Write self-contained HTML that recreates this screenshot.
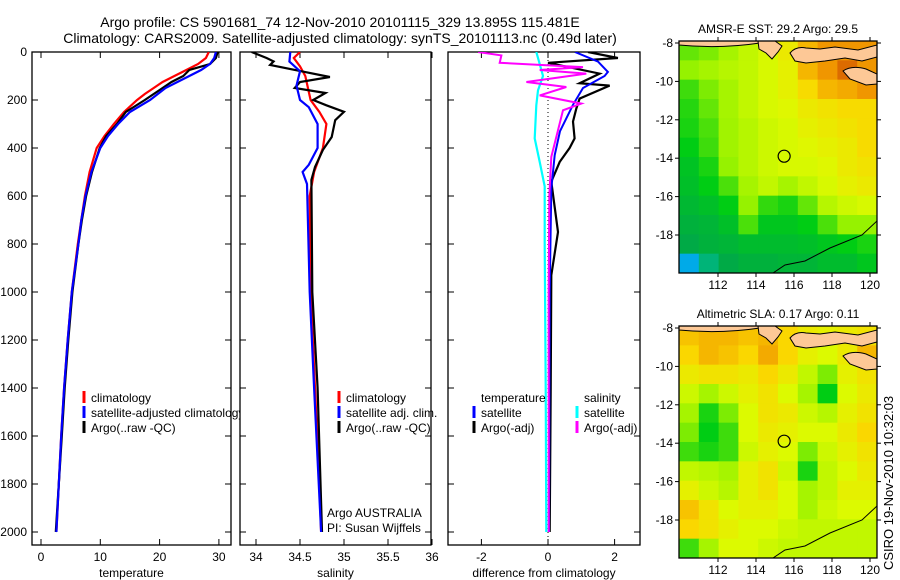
<!DOCTYPE html>
<html><head><meta charset="utf-8"><style>
html,body{margin:0;padding:0;background:#fff;}
svg{display:block;font-family:"Liberation Sans",sans-serif;}
</style></head><body>
<svg id="fig" width="900" height="580" viewBox="0 0 900 580">
<text x="340" y="27" font-size="14" text-anchor="middle">Argo profile: CS 5901681_74 12-Nov-2010 20101115_329 13.895S 115.481E</text>
<text x="340" y="43" font-size="14" text-anchor="middle">Climatology: CARS2009. Satellite-adjusted climatology: synTS_20101113.nc (0.49d later)</text>
<text x="0" y="0" font-size="13" transform="translate(893,570) rotate(-90)">CSIRO 19-Nov-2010 10:32:03</text>
<g id="g"></g>
</svg>
<script>
// ---------- data ----------
const depthT=[0,25,50,75,100,125,150,175,200,250,300,350,400,500,600,700,800,1000,1200,1400,1600,1800,2000];
const tempClim=[28.3,27.8,26.5,24.5,22.5,20.5,19,17.5,16.2,14,12.3,10.7,9.4,8.2,7.4,6.8,6.2,5.2,4.5,3.9,3.4,3.0,2.6];
const tempSat=[29.5,29.2,28.5,27,25,23,21,19.7,18.4,15,13,11.3,10,8.5,7.5,6.8,6.3,5.2,4.5,3.9,3.4,3.0,2.6];
const tempArgo=[29.8,29.5,28.5,25,24,22,20.5,19,17.5,14.3,12.8,11,9.9,8.6,7.6,6.9,6.3,5.3,4.6,4.0,3.5,3.0,2.5];
const depthSA=[0,25,39,54,82,104,125,150,171,200,222,249,284,354,408,479,533,1000,1400,2000];
const salArgo=[33.95,34.12,34.2,34.16,34.54,34.84,34.5,34.44,34.79,34.65,34.8,35.0,34.9,34.86,34.76,34.67,34.63,34.64,34.7,34.75];
const depthSC=[0,25,60,100,200,250,300,400,500,600,1000,1400,1800,2000];
const salClim=[34.5,34.43,34.5,34.56,34.62,34.72,34.8,34.76,34.66,34.61,34.62,34.67,34.72,34.74];
const depthSS=[0,40,80,140,200,230,300,400,470,500,550,1000,1400,2000];
const salSat=[34.39,34.38,34.5,34.46,34.5,34.6,34.7,34.7,34.6,34.53,34.58,34.61,34.66,34.74];
const depthDB=[0,40,83,100,150,220,330,430,570,1000,2000];
const diffTSat=[0.81,1.5,1.8,1.7,1.05,0.75,0.36,0.2,0.1,0.05,0.03];
const depthDK=[0,25,45,90,130,140,194,236,290,360,400,458,540,750,930,1400,2000];
const diffTArgo=[1.2,2.1,0.0,1.55,0.95,1.85,0.95,0.85,0.75,0.8,0.65,0.35,0.1,0.3,0.1,0.08,0.05];
const depthDM=[0,14,45,63,75,90,125,146,181,215,243,326,437,600,1000,2000];
const diffSArgo=[-2.1,-1.4,-1.45,1.05,-0.25,1.15,-0.65,0.55,-0.25,1.0,0.45,0.3,0.1,0.04,0.02,0.02];
const depthDC=[0,50,100,160,222,360,458,560,800,1400,2000];
const diffSSat=[-0.35,-0.25,-0.15,-0.3,-0.35,-0.4,-0.25,-0.1,-0.1,-0.07,-0.05];
const depthTicks=[0,200,400,600,800,1000,1200,1400,1600,1800,2000];
const tempTicks=[0,10,20,30];
const salTicks=[34,34.5,35,35.5,36];
const diffTicks=[-2,0,2];
const latTicks=[-8,-10,-12,-14,-16,-18];
const lonTicks=[112,114,116,118,120];
const sstGrid=[
[0.48,0.5,0.55,0.6,0.64,0.7,0.8,0.85,0.85,0.85],
[0.52,0.55,0.58,0.6,0.64,0.68,0.8,0.85,0.9,0.85],
[0.45,0.5,0.55,0.6,0.64,0.68,0.74,0.8,0.82,0.85],
[0.43,0.48,0.55,0.6,0.64,0.66,0.7,0.72,0.74,0.74],
[0.42,0.46,0.54,0.58,0.62,0.64,0.68,0.7,0.72,0.74],
[0.4,0.45,0.54,0.58,0.62,0.64,0.66,0.68,0.7,0.74],
[0.37,0.42,0.52,0.58,0.62,0.64,0.64,0.66,0.7,0.72],
[0.36,0.4,0.46,0.55,0.6,0.55,0.6,0.64,0.68,0.7],
[0.34,0.36,0.4,0.52,0.44,0.42,0.48,0.58,0.62,0.64],
[0.32,0.33,0.36,0.46,0.38,0.38,0.4,0.46,0.52,0.52],
[0.3,0.32,0.33,0.35,0.35,0.35,0.36,0.38,0.4,0.42],
[0.1,0.25,0.3,0.32,0.32,0.33,0.33,0.35,0.35,0.38]];
const slaGrid=[
[0.78,0.8,0.8,0.78,0.8,0.75,0.7,0.68,0.7,0.72],
[0.75,0.8,0.78,0.75,0.82,0.75,0.68,0.65,0.7,0.8],
[0.7,0.72,0.72,0.7,0.75,0.7,0.6,0.5,0.68,0.72],
[0.62,0.55,0.62,0.68,0.72,0.65,0.55,0.4,0.65,0.7],
[0.55,0.42,0.5,0.65,0.72,0.7,0.62,0.58,0.68,0.72],
[0.5,0.4,0.45,0.65,0.7,0.68,0.65,0.65,0.7,0.75],
[0.45,0.42,0.45,0.62,0.68,0.65,0.5,0.62,0.68,0.72],
[0.6,0.58,0.55,0.68,0.72,0.62,0.42,0.6,0.65,0.7],
[0.68,0.62,0.58,0.68,0.72,0.65,0.55,0.6,0.68,0.68],
[0.78,0.72,0.65,0.68,0.68,0.65,0.55,0.62,0.65,0.65],
[0.75,0.72,0.68,0.65,0.65,0.62,0.6,0.6,0.6,0.6],
[0.45,0.55,0.65,0.65,0.62,0.6,0.6,0.6,0.6,0.6]];
const argoLon=115.481, argoLat=-13.895;

// ---------- helpers ----------
const NS="http://www.w3.org/2000/svg";
const G=document.getElementById('g');
function el(tag,attrs,parent){const e=document.createElementNS(NS,tag);for(const k in attrs)e.setAttribute(k,attrs[k]);(parent||G).appendChild(e);return e;}
const yD=d=>52+0.24*d;
const xT=t=>41+5.93*t;
const xS=s=>256+88*(s-34);
const xDf=v=>548+33.3*v;

function panel(name,x0,x1,xf,xticks,xlabel,showDepth){
  const gp=el('g',{});
  
  
  const f=el('rect',{x:x0,y:52,width:x1-x0,height:493,fill:'none',stroke:'#000','stroke-width':1.3},gp);
  
  
  xticks.forEach(t=>{const x=xf(t);
    el('line',{x1:x,x2:x,y1:545,y2:539,stroke:'#000'},gp);
    el('line',{x1:x,x2:x,y1:52,y2:58,stroke:'#000'},gp);
    const tx=el('text',{x:x,y:561,'font-size':12,'text-anchor':'middle'},gp);tx.textContent=t;
    
    });
  depthTicks.forEach(d=>{const y=yD(d);
    el('line',{x1:x0,x2:x0+6,y1:y,y2:y,stroke:'#000'},gp);
    el('line',{x1:x1,x2:x1-6,y1:y,y2:y,stroke:'#000'},gp);
    if(showDepth){const tx=el('text',{x:x0-5,y:y+4,'font-size':12,'text-anchor':'end'},gp);tx.textContent=d;
      
      }});
  const xl=el('text',{x:(x0+x1)/2,y:577,'font-size':12,'text-anchor':'middle'},gp);xl.textContent=xlabel;
  
  
}
function line(depths,vals,xf,color,name,w,clip){
  const pts=depths.map((d,i)=>xf(vals[i]).toFixed(1)+','+yD(d).toFixed(1)).join(' ');
  const p=el('polyline',{points:pts,fill:'none',stroke:color,'stroke-width':w||2.2,'clip-path':'url(#'+clip+')'});
  
  
}
function legend(x,y,color,label,name){
  if(color){const b=el('line',{x1:x,x2:x,y1:y-11,y2:y+1,stroke:color,'stroke-width':3});
    
    }
  const t=el('text',{x:x+7,y:y,'font-size':12});t.textContent=label;
  
  
}
const defs=el('defs',{});
[['c1',32,231],['c2',240,431],['c3',448,640]].forEach(([id,a,b])=>{const c=el('clipPath',{id:id},defs);el('rect',{x:a,y:52,width:b-a,height:493},c);});
const cl=el('clipPath',{id:'clg'},defs);el('rect',{x:32,y:380,width:208,height:60},cl);

// ---------- temperature panel ----------
panel('temperature',32,231,xT,tempTicks,'temperature',true);
line(depthT,tempClim,xT,'#f00','temp-climatology-line',2.2,'c1');
line(depthT,tempArgo,xT,'#000','temp-argo-line',2.2,'c1');
line(depthT,tempSat,xT,'#00f','temp-satellite-line',2.2,'c1');
const lg=el('g',{'clip-path':'url(#clg)'});
[['#f00','climatology',402],['#00f','satellite-adjusted climatology',417],['#000','Argo(..raw -QC)',432]].forEach(([c,l,y],i)=>{
  const b=el('line',{x1:84,x2:84,y1:y-11,y2:y+1,stroke:c,'stroke-width':3},lg);
  
  
  const t=el('text',{x:91,y:y,'font-size':12},lg);t.textContent=l;
  
  });

// ---------- salinity panel ----------
panel('salinity',240,431,xS,salTicks,'salinity',false);
line(depthSC,salClim,xS,'#f00','sal-climatology-line',2.2,'c2');
line(depthSA,salArgo,xS,'#000','sal-argo-line',2.2,'c2');
line(depthSS,salSat,xS,'#00f','sal-satellite-line',2.2,'c2');
legend(339,402,'#f00','climatology','sal-legend-climatology');
legend(339,417,'#00f','satellite adj. clim.','sal-legend-satellite');
legend(339,432,'#000','Argo(..raw -QC)','sal-legend-argo');
legend(320,517,null,'Argo AUSTRALIA','argo-australia-label');
legend(320,532,null,'PI: Susan Wijffels','pi-label');

// ---------- difference panel ----------
panel('difference',448,640,xDf,diffTicks,'difference from climatology',false);
el('line',{x1:548,x2:548,y1:52,y2:545,stroke:'#000','stroke-dasharray':'1,3'});
line(depthDC,diffSSat,xDf,'#0ff','diff-sal-satellite-line',2.2,'c3');
line(depthDK,diffTArgo,xDf,'#000','diff-temp-argo-line',2.2,'c3');
line(depthDB,diffTSat,xDf,'#00f','diff-temp-satellite-line',2,'c3');
line(depthDM,diffSArgo,xDf,'#f0f','diff-sal-argo-line',2,'c3');
legend(474,402,null,'temperature','diff-legend-temp-header');
legend(474,417,'#00f','satellite','diff-legend-temp-satellite');
legend(474,432,'#000','Argo(-adj)','diff-legend-temp-argo');
legend(577,402,null,'salinity','diff-legend-sal-header');
legend(577,417,'#0ff','satellite','diff-legend-sal-satellite');
legend(577,432,'#f0f','Argo(-adj)','diff-legend-sal-argo');

// ---------- maps ----------
function ramp(v){
  const st=[[0,[0,110,255]],[0.15,[0,200,220]],[0.3,[0,170,70]],[0.4,[0,205,20]],[0.52,[150,242,0]],[0.65,[220,250,0]],[0.75,[250,215,0]],[0.85,[240,150,0]],[1,[180,20,0]]];
  for(let i=1;i<st.length;i++){if(v<=st[i][0]){const a=st[i-1],b=st[i],t=(v-a[0])/(b[0]-a[0]);
    return 'rgb('+a[1].map((c,k)=>Math.round(c+(b[1][k]-c)*t)).join(',')+')';}}
  return 'rgb(180,20,0)';
}
function map(name,top,grid,title){
  const x0=679,x1=877,y1=top+232;
  const xL=lon=>718+19*(lon-112), yL=lat=>top+2+19.2*(-8-lat);
  const gm=el('g',{});
  
  
  const cid='m'+top;const c=el('clipPath',{id:cid},defs);el('rect',{x:x0,y:top,width:x1-x0,height:y1-top},c);
  const gc=el('g',{'clip-path':'url(#'+cid+')'},gm);
  const nr=grid.length,nc=grid[0].length,cw=(x1-x0)/nc,ch=(y1-top)/nr;
  grid.forEach((row,r)=>row.forEach((v,k)=>{
    const cell=el('rect',{x:x0+k*cw,y:top+r*ch,width:cw+0.5,height:ch+0.5,fill:ramp(v)},gc);
    
    }));
  const T=top;
  const land=[
    `M679,${T-2} L760,${T-2} L760,${T+2} Q720,${T+8} 679,${T+4}Z`,
    `M758,${T} L775,${T} L782,${T+5} L778,${T+11} L772,${T+18} L766,${T+12} L759,${T+8}Z`,
    `M790,${T+12} Q796,${T+5} 806,${T+7} L820,${T+8} L835,${T+6} L858,${T+9} L877,${T+4} L877,${T+16} L862,${T+20} L845,${T+17} L825,${T+20} L806,${T+22} L795,${T+20}Z`,
    `M843,${T+30} Q852,${T+24} 866,${T+28} L877,${T+33} L877,${T+43} L866,${T+44} L850,${T+38}Z`];
  land.forEach(d=>{const p=el('path',{d:d,fill:'#fdc896',stroke:'#000','stroke-width':1},gc);
    
    });
  const coast=el('path',{d:'M773,'+(y1)+' L785,'+(y1-8)+' L805,'+(y1-12)+' L830,'+(y1-25)+' L862,'+(y1-38)+' L877,'+(y1-52),fill:'none',stroke:'#000','stroke-width':1},gc);
  
  
  el('rect',{x:x0,y:top,width:x1-x0,height:y1-top,fill:'none',stroke:'#000','stroke-width':1.3},gm);
  const m=el('circle',{cx:xL(argoLon),cy:yL(argoLat),r:6,fill:'none',stroke:'#000','stroke-width':1.2},gm);
  
  
  latTicks.forEach(l=>{const y=yL(l);el('line',{x1:x0,x2:x0-4,y1:y,y2:y,stroke:'#000'},gm);el('line',{x1:x1,x2:x1+4,y1:y,y2:y,stroke:'#000'},gm);
    const t=el('text',{x:x0-6,y:y+4,'font-size':12,'text-anchor':'end'},gm);t.textContent=l;
    
    });
  lonTicks.forEach(l=>{const x=xL(l);el('line',{x1:x,x2:x,y1:y1,y2:y1+4,stroke:'#000'},gm);el('line',{x1:x,x2:x,y1:top,y2:top-4,stroke:'#000'},gm);
    const t=el('text',{x:x,y:y1+16,'font-size':12,'text-anchor':'middle'},gm);t.textContent=l;
    
    });
  const tt=el('text',{x:778,y:top-8,'font-size':12,'text-anchor':'middle'},gm);tt.textContent=title;
  
  
}
map('sst-map',41,sstGrid,'AMSR-E SST: 29.2 Argo: 29.5');
map('sla-map',326,slaGrid,'Altimetric SLA: 0.17 Argo: 0.11');
</script>
</body></html>
